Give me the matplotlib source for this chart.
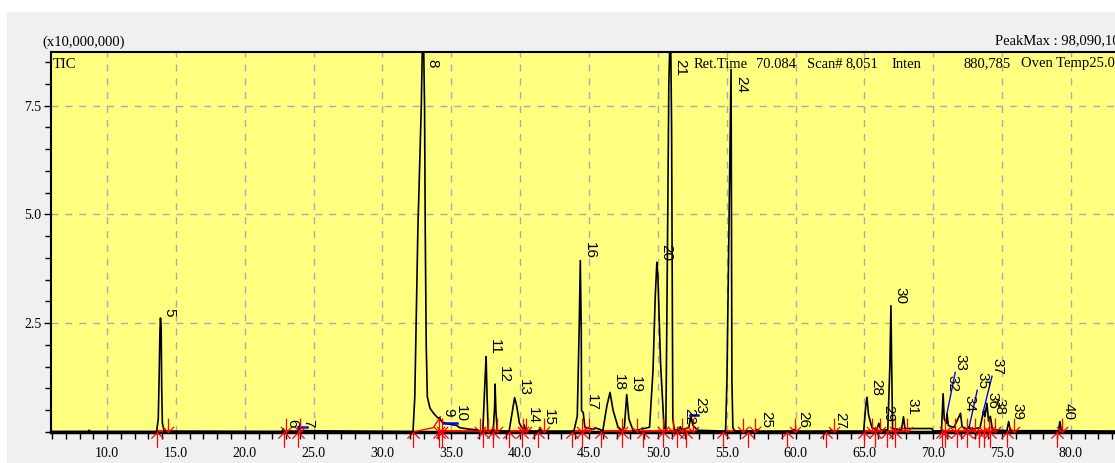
import matplotlib
matplotlib.use("Agg")
import matplotlib.pyplot as plt
from matplotlib.path import Path
from matplotlib.ticker import MultipleLocator, FixedLocator

# TIC trace, intensity in units of 10,000,000
trace_t = [5.93, 8.6, 8.7, 8.8,
           13.60, 13.72, 13.78, 13.84, 13.88, 13.93, 13.97, 14.02, 14.15,
           22.70, 22.80, 22.90, 23.85, 23.95, 24.10,
           32.22, 32.35, 32.45, 32.57, 32.82, 32.95, 33.06, 33.11, 33.18, 33.26, 33.45, 33.69,
           34.0, 34.15, 34.33, 34.8, 35.4, 35.6, 36.2, 36.85, 37.2,
           37.29, 37.45, 37.53, 37.6, 37.68, 38.05, 38.15, 38.18, 38.24, 38.34,
           39.2, 39.45, 39.6, 39.75, 39.95, 40.22, 40.3, 40.4, 41.35, 41.45, 41.55,
           43.9, 44.15, 44.29, 44.37, 44.44, 44.46, 44.58, 44.7, 45.3, 45.5, 45.8,
           46.0, 46.3, 46.53, 46.75, 47.1, 47.37, 47.57, 47.74, 47.9, 48.22,
           49.4, 49.65, 49.81, 49.93, 50.0, 50.2, 50.45,
           50.58, 50.65, 50.80, 50.92, 51.0, 51.03, 51.09, 51.2,
           51.55, 51.63, 51.75, 52.25, 52.4, 52.55, 52.9,
           54.92, 55.02, 55.18, 55.32, 55.35, 55.38, 55.45, 55.6,
           57.1, 57.2, 57.3, 59.8, 59.9, 60.0, 62.5, 62.6, 62.7,
           64.95, 65.1, 65.19, 65.3, 65.55, 65.9, 66.05, 66.2,
           66.7, 66.85, 66.93, 66.98, 67.05, 67.7, 67.84, 67.95, 69.9, 70.0,
           70.6, 70.72, 70.8, 70.95, 71.0, 71.1, 71.5, 71.98, 72.1, 72.5, 72.58, 72.7,
           73.4, 73.67, 73.75, 73.9, 74.02, 74.15, 74.3,
           75.35, 75.48, 75.6, 79.1, 79.2, 79.3, 83.5]
trace_i = [0.01, 0.01, 0.04, 0.01,
           0.01, 0.3, 1.2, 2.3, 2.62, 2.4, 1.0, 0.2, 0.02,
           0.01, 0.07, 0.02, 0.02, 0.08, 0.03,
           0.01, 0.8, 2.5, 4.6, 7.45, 9.81, 7.45, 4.6, 2.0, 0.81, 0.55, 0.44,
           0.33, 0.32, 0.23, 0.18, 0.15, 0.1, 0.07, 0.05, 0.01,
           0.02, 1.2, 1.73, 0.8, 0.03, 0.03, 0.6, 1.10, 0.5, 0.03,
           0.02, 0.5, 0.79, 0.6, 0.2, 0.06, 0.16, 0.03, 0.02, 0.10, 0.02,
           0.02, 0.36, 2.4, 3.94, 2.33, 0.49, 0.45, 0.11, 0.06, 0.09, 0.06,
           0.02, 0.6, 0.91, 0.5, 0.12, 0.04, 0.1, 0.86, 0.3, 0.02,
           0.11, 1.41, 3.09, 3.9, 3.63, 1.57, 0.11,
           0.05, 2.35, 8.0, 9.5, 7.0, 4.6, 0.3, 0.05,
           0.04, 0.12, 0.05, 0.1, 0.38, 0.15, 0.04,
           0.02, 1.2, 5.0, 8.33, 5.0, 1.2, 0.1, 0.02,
           0.02, 0.06, 0.02, 0.02, 0.06, 0.02, 0.02, 0.05, 0.02,
           0.02, 0.6, 0.80, 0.4, 0.1, 0.05, 0.2, 0.04,
           0.05, 1.5, 2.9, 1.6, 0.08, 0.05, 0.35, 0.08, 0.08, 0.02,
           0.03, 0.88, 0.3, 0.2, 0.42, 0.15, 0.1, 0.43, 0.12, 0.06, 0.12, 0.06,
           0.1, 0.5, 0.35, 0.66, 0.25, 0.36, 0.05,
           0.03, 0.24, 0.03, 0.03, 0.24, 0.03, 0.02]

# peak table: number, apex time, apex height
peak_no = list(range(5, 41))
peak_rt = [13.88, 22.80, 23.95, 32.95, 34.15, 35.05, 37.53, 38.18, 39.6, 40.3,
           41.45, 44.37, 44.58, 46.53, 47.74, 49.93, 50.92, 51.63, 52.4, 55.32,
           57.2, 59.9, 62.6, 65.19, 66.05, 66.93, 67.84, 70.72, 71.0, 71.98,
           72.58, 73.67, 73.9, 74.15, 75.48, 79.2]
peak_top = [2.62, 0.07, 0.08, 9.81, 0.32, 0.2, 1.73, 1.10, 0.79, 0.16,
            0.10, 3.94, 0.45, 0.91, 0.86, 3.9, 9.5, 0.12, 0.38, 8.33,
            0.06, 0.06, 0.05, 0.80, 0.2, 2.9, 0.35, 0.88, 0.42, 0.43,
            0.12, 0.5, 0.66, 0.36, 0.24, 0.24]
# integration start / end
peak_start = [13.65, 22.86, 23.85, 32.22, 34.1, 34.3, 37.28, 38.03, 39.2, 40.1,
              41.3, 43.8, 44.47, 45.85, 47.37, 48.95, 50.4, 51.37, 52.05, 54.75,
              56.57, 59.36, 62.2, 64.94, 65.8, 66.64, 67.25, 70.64, 70.88, 71.73,
              72.47, 73.3, 73.67, 74.16, 75.37, 79.0]
peak_end = [14.45, 23.0, 24.0, 34.1, 34.3, 37.1, 37.67, 38.32, 40.2, 40.45,
            41.7, 44.47, 45.03, 47.37, 48.49, 50.4, 51.13, 51.73, 52.58, 56.15,
            57.06, 59.96, 62.8, 65.55, 66.16, 67.25, 68.1, 70.88, 71.6, 72.45,
            73.0, 73.67, 74.04, 74.52, 75.85, 79.35]

# skewed baseline under peak 8, drift baselines, label leaders
base8_t = [32.22, 33.7, 34.2]
base8_i = [0.0, 0.1, 0.35]
drift = [((23.9, 24.5), (0.12, 0.12)), ((34.4, 35.4), (0.2, 0.2)), ((52.35, 52.95), (0.38, 0.38))]
leaders = {33: ((71.0, 71.6), (0.43, 1.37)),
           35: ((72.6, 73.2), (0.10, 0.96)),
           37: ((73.6, 74.27), (0.43, 1.28))}

W, H = 1115, 463
XMIN, XMAX = 5.93, 83.42
YMAX = 8.73
YELLOW = "#ffff80"
SERIF = "Liberation Serif"
SANS = "Liberation Sans"

fig = plt.figure(figsize=(W / 100, H / 100), dpi=100)
fig.patch.set_facecolor("#f0f0f0")
# white strip along top and left edge
fig.patches.append(plt.Rectangle((0, 1 - 12 / H), 1, 12 / H, transform=fig.transFigure,
                                 facecolor="white", edgecolor="none", zorder=0))
fig.patches.append(plt.Rectangle((0, 0), 7 / W, 1, transform=fig.transFigure,
                                 facecolor="white", edgecolor="none", zorder=0))

ax = fig.add_axes([51 / W, 31 / H, (1118 - 51) / W, 380 / H])
ax.set_facecolor(YELLOW)
ax.set_xlim(XMIN, XMAX)
ax.set_ylim(0, YMAX)

ax.xaxis.set_major_locator(FixedLocator([10, 15, 20, 25, 30, 35, 40, 45, 50, 55, 60, 65, 70, 75, 80]))
ax.xaxis.set_minor_locator(MultipleLocator(1))
ax.yaxis.set_major_locator(FixedLocator([2.5, 5.0, 7.5]))
ax.yaxis.set_minor_locator(MultipleLocator(0.5))
ax.xaxis.set_major_formatter(lambda v, p: f"{v:.1f}")
ax.yaxis.set_major_formatter(lambda v, p: f"{v:.1f}")
ax.tick_params(axis="both", which="both", direction="out", color="black", width=1,
               labelsize=10)
ax.tick_params(axis="x", which="both", length=5, pad=6)
ax.tick_params(axis="y", which="major", length=5, pad=2)
ax.tick_params(axis="y", which="minor", length=4)
for lab in ax.get_xticklabels() + ax.get_yticklabels():
    lab.set_fontfamily(SERIF)
ax.grid(True, which="major", color="#ababab", linestyle=(0, (5, 5)), linewidth=1)
ax.set_axisbelow(True)

ax.spines["right"].set_visible(False)
ax.spines["left"].set_linewidth(1.5)
ax.spines["top"].set_linewidth(1.5)
ax.spines["bottom"].set_linewidth(2.5)

ax.plot(trace_t, trace_i, color="black", lw=1.2, zorder=4)

# integration baselines and markers
for s, e in zip(peak_start, peak_end):
    if s < 33:
        continue
    ax.plot([s, e], [0.015, 0.015], color="red", lw=1.3, zorder=3)
ax.plot([13.65, 14.45], [0.03, 0.03], color="red", lw=1.3, zorder=3)
ax.plot(base8_t, base8_i, color="red", lw=1.0, zorder=3)
for (tt, ii) in drift:
    ax.plot(tt, ii, color="#0000ff", lw=1.8, zorder=5)
for n, (tt, ii) in leaders.items():
    ax.plot(tt, ii, color="#0000ff", lw=1.0, zorder=5)

up_arrow = Path([(0, -1), (0, 0), (-0.4, -0.4), (0, 0), (0.4, -0.4)],
                [Path.MOVETO, Path.LINETO, Path.MOVETO, Path.LINETO, Path.LINETO])
down_arrow = Path([(0, 1), (0, 0), (-0.4, 0.4), (0, 0), (0.4, 0.4)],
                  [Path.MOVETO, Path.LINETO, Path.MOVETO, Path.LINETO, Path.LINETO])
ax.plot(peak_start, [0] * len(peak_start), linestyle="none", marker=up_arrow, markersize=22,
        markerfacecolor="none", markeredgecolor="red", markeredgewidth=0.9, clip_on=False, zorder=6)
ax.plot(peak_end, [0] * len(peak_end), linestyle="none", marker=down_arrow, markersize=20,
        markerfacecolor="none", markeredgecolor="red", markeredgewidth=0.9, clip_on=False, zorder=6)

# peak numbers
for n, t, h in zip(peak_no, peak_rt, peak_top):
    if n in leaders:
        lt, lh = leaders[n][0][1], leaders[n][1][1]
        ax.annotate(str(n), (lt, lh), xytext=(-1, 1), textcoords="offset points",
                    rotation=-90, ha="left", va="bottom", fontsize=11,
                    family=SANS, zorder=7)
    elif h > YMAX - 0.8:
        ax.annotate(str(n), (t, min(h, YMAX) - 0.15), xytext=(2, 0), textcoords="offset points",
                    rotation=-90, ha="left", va="top", fontsize=11,
                    family=SANS, zorder=7)
    else:
        ax.annotate(str(n), (t, h), xytext=(1.5, 1), textcoords="offset points",
                    rotation=-90, ha="left", va="bottom", fontsize=11,
                    family=SANS, zorder=7)

# header texts
fig.text(42 / W, 1 - 42 / H, "(x10,000,000)", family=SERIF, fontsize=10.5, va="center", ha="left")
fig.text(995 / W, 1 - 41 / H, "PeakMax : 98,090,100", family=SERIF, fontsize=10.5, va="center", ha="left")
fig.text(53 / W, 1 - 64 / H, "TIC", family=SERIF, fontsize=10.5, va="center", ha="left")
header = [(694, "Ret.Time"), (756, "70.084"), (807, "Scan#"), (846, "8,051"),
          (891, "Inten"), (963, "880,785"), (1021, "Oven Temp25.00")]
for x, s in header:
    fig.text(x / W, 1 - 64 / H, s, family=SERIF, fontsize=10.5, va="center", ha="left")

fig.savefig("out.png", dpi=100, facecolor=fig.get_facecolor())
